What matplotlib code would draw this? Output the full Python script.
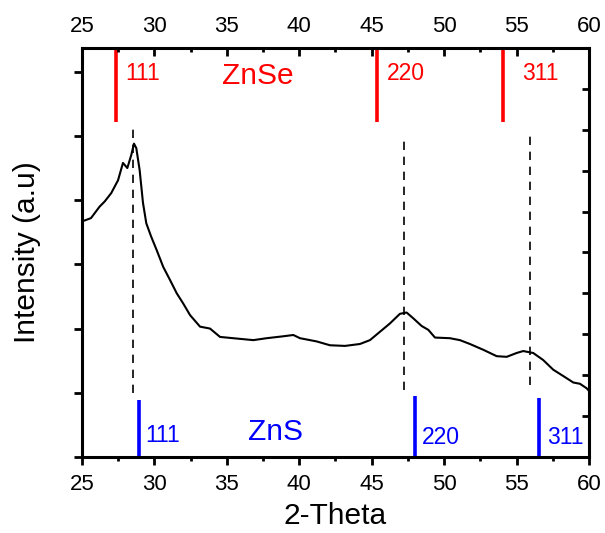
import numpy as np
import matplotlib
matplotlib.use('Agg')
import matplotlib.pyplot as plt

plt.rcParams['font.family'] = ['Liberation Sans', 'DejaVu Sans']

# XRD pattern (2-theta, intensity a.u.)
two_theta = [25.0, 25.14, 25.62, 26.22, 26.57, 27.02, 27.49, 27.83, 28.13, 28.40,
             28.59, 28.75, 28.98, 29.21, 29.44, 29.78, 30.16, 30.61, 31.07, 31.54,
             31.99, 32.46, 33.15, 33.84, 34.53, 35.44, 36.83, 37.75, 38.90, 39.59,
             40.05, 41.20, 42.12, 43.16, 44.19, 44.88, 45.57, 46.26, 46.95, 47.41,
             47.87, 48.45, 48.91, 49.37, 50.40, 51.09, 51.78, 52.70, 53.63, 54.32,
             55.01, 55.46, 56.15, 56.84, 57.53, 58.23, 58.92, 59.38, 59.84, 60.0]
intensity = [3.68, 3.68, 3.72, 3.90, 3.98, 4.11, 4.31, 4.58, 4.50, 4.70,
             4.88, 4.81, 4.47, 3.96, 3.64, 3.43, 3.22, 2.96, 2.76, 2.55,
             2.39, 2.21, 2.03, 2.00, 1.87, 1.85, 1.82, 1.85, 1.88, 1.90,
             1.85, 1.80, 1.74, 1.73, 1.76, 1.82, 1.95, 2.08, 2.23, 2.25,
             2.16, 2.04, 1.98, 1.86, 1.85, 1.82, 1.76, 1.67, 1.57, 1.56,
             1.62, 1.65, 1.62, 1.51, 1.36, 1.26, 1.16, 1.14, 1.07, 1.03]

# sample peak markers (dashed)
peak_pos = [28.50, 47.25, 55.92]
peak_top = [5.20, 5.02, 5.09]
peak_bottom = [1.00, 1.04, 1.12]

# reference lines
hkl = ['111', '220', '311']
znse_pos = [27.32, 45.38, 54.08]
zns_pos = [28.93, 47.99, 56.54]
zns_top = [0.89, 0.95, 0.92]

YMAX = 6.37

fig = plt.figure(figsize=(6.05, 5.33), dpi=100)
ax = fig.add_axes([0.1355, 0.1426, 0.838, 0.7674])

ax.plot(two_theta, intensity, color='black', lw=1.5)
for p, t, b in zip(peak_pos, peak_top, peak_bottom):
    ax.plot([p, p], [b, t], color='black', lw=1.2, ls=(0, (5, 4)))

for p in znse_pos:
    ax.plot([p, p], [5.22, YMAX], color='red', lw=2.6, solid_capstyle='butt')
for p, t in zip(zns_pos, zns_top):
    ax.plot([p, p], [0, t], color='blue', lw=2.6, solid_capstyle='butt')

red_lbl_x = [27.97, 46.08, 55.35]
for lx, s in zip(red_lbl_x, hkl):
    ax.text(lx, 5.98, s, color='red', fontsize=16.5, va='center', ha='left')
ax.text(34.66, 5.93, 'ZnSe', color='red', fontsize=21.5, va='center', ha='left')

blue_lbl_x = [29.35, 48.47, 57.1]
blue_lbl_y = [0.34, 0.30, 0.30]
for lx, ly, s in zip(blue_lbl_x, blue_lbl_y, hkl):
    ax.text(lx, ly, s, color='blue', fontsize=16.5, va='center', ha='left')
ax.text(36.46, 0.39, 'ZnS', color='blue', fontsize=21.5, va='center', ha='left')

ax.set_xlim(25, 60)
ax.set_ylim(0, YMAX)
ax.set_xticks(np.arange(25, 61, 5))
ax.set_xticks(np.arange(25, 61, 2.5), minor=True)
ax.set_yticks(np.arange(0, 7, 1))
ax.set_yticklabels([])
ax.tick_params(axis='x', which='major', direction='out', length=6, width=2,
               labelsize=16, pad=6, top=False)
ax.tick_params(axis='x', which='minor', direction='out', length=3, width=2, top=False)
ax.tick_params(axis='y', which='major', direction='out', length=6, width=2, right=False)
for s in ax.spines.values():
    s.set_linewidth(2.2)

# top axis: inward ticks with labels
axt = ax.twiny()
axt.set_xlim(25, 60)
axt.set_xticks(np.arange(25, 61, 5))
axt.set_xticks(np.arange(25, 61, 2.5), minor=True)
axt.tick_params(axis='x', which='major', direction='in', length=6, width=2,
                labelsize=16, pad=8)
axt.tick_params(axis='x', which='minor', direction='in', length=3, width=2)

# right axis: inward ticks, no labels
axr = ax.twinx()
axr.set_ylim(0, 10)
axr.set_yticks(np.arange(1, 10, 1))
axr.set_yticklabels([])
axr.tick_params(axis='y', direction='in', length=5, width=2)

ax.set_xlabel('2-Theta', fontsize=21.5, labelpad=5)
ax.set_ylabel('Intensity (a.u)', fontsize=21.5, labelpad=20)

fig.savefig('out.png', dpi=100)
